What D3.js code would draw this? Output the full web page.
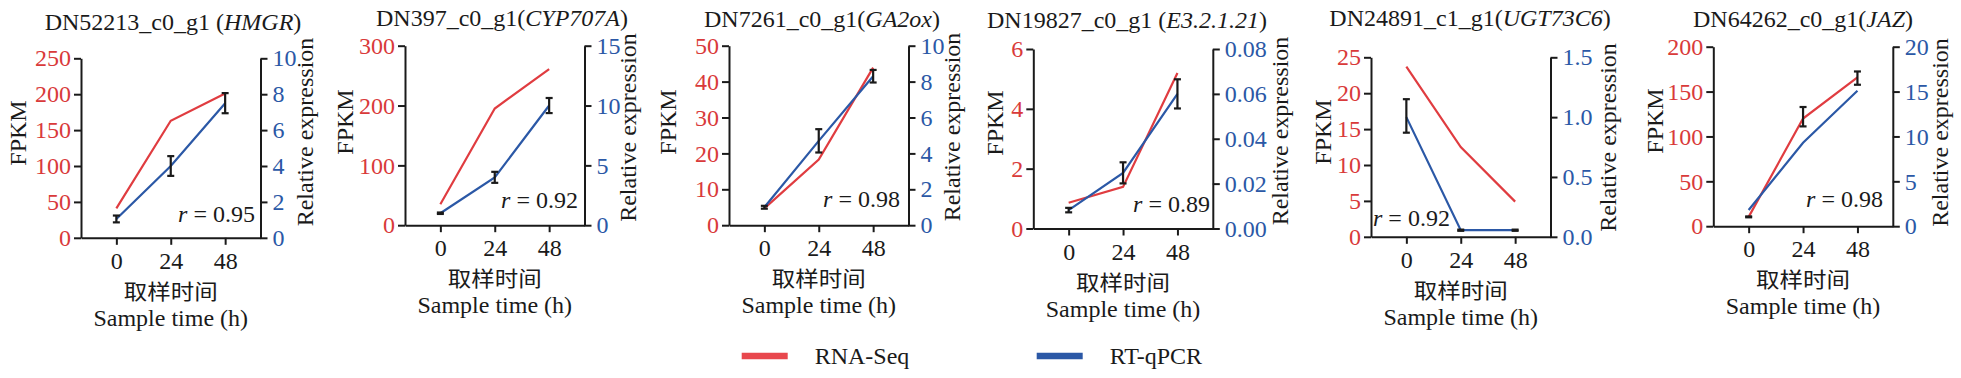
<!DOCTYPE html>
<html>
<head>
<meta charset="utf-8">
<script src="https://cdn.jsdelivr.net/npm/d3@7"></script>
<style>
	body { margin: 0; background: #fff; }
	svg { display: block; }
	svg text { font-family: "Liberation Serif", "Times New Roman", Times, serif; }
	svg text.cjk { font-family: "Noto Sans CJK SC", sans-serif; }
</style>
</head>
<body>
<svg id="chart" width="1961" height="378"></svg>
<script>
// sampling times (h)
var times = ['0', '24', '48'];

// gene titles
var geneIds = ['DN52213_c0_g1 (', 'DN397_c0_g1(', 'DN7261_c0_g1(', 'DN19827_c0_g1 (', 'DN24891_c1_g1(', 'DN64262_c0_g1('];
var geneNames = ['HMGR', 'CYP707A', 'GA2ox', 'E3.2.1.21', 'UGT73C6', 'JAZ'];

// axis ranges
var fpkmMax = [250, 300, 50, 6, 25, 200];
var fpkmStep = [50, 100, 10, 2, 5, 50];
var relMax = [10, 15, 10, 0.08, 1.5, 20];
var relStep = [2, 5, 2, 0.02, 0.5, 5];
var relDigits = [0, 0, 0, 2, 1, 0];

// RNA-Seq FPKM
var rnaSeq = [
	[41, 163, 201],
	[35, 195, 261],
	[4.7, 18.3, 43.9],
	[0.86, 1.39, 5.2],
	[23.7, 12.5, 4.9],
	[10.4, 120, 165.8]
];

// RT-qPCR relative expression (line)
var qpcr = [
	[1.05, 4.0, 7.5],
	[1.0, 4.0, 10.0],
	[1.0, 4.7, 8.3],
	[0.0082, 0.0248, 0.060],
	[1.0, 0.055, 0.055],
	[1.8, 9.3, 15.1]
];

// error bars (relative expression units)
var qpcrBar = [
	[1.05, 4.0, 7.5],
	[1.0, 4.0, 10.0],
	[1.0, 4.7, 8.3],
	[0.0082, 0.0248, 0.060],
	[1.01, 0.055, 0.055],
	[1.04, 12.2, 16.5]
];
var qpcrErr = [
	[0.19, 0.55, 0.56],
	[0.06, 0.46, 0.63],
	[0.08, 0.65, 0.35],
	[0.001, 0.0047, 0.0065],
	[0.14, 0.005, 0.005],
	[0.05, 1.08, 0.74]
];

var rValues = ['0.95', '0.92', '0.98', '0.89', '0.92', '0.98'];
var seriesNames = ['RNA-Seq', 'RT-qPCR'];

// panel placement (left axis x, top y) and label spots
var layout = [
	{x: 81, y: 58.3, tx: 173, ty: 30, fx: 18, fy: 133, ex: 305, ey: 132, rx: 255, ry: 222, ra: 'end'},
	{x: 405, y: 45.7, tx: 502, ty: 26, fx: 345, fy: 122, ex: 628, ey: 127.5, rx: 578, ry: 208, ra: 'end'},
	{x: 729, y: 45.7, tx: 822, ty: 26.7, fx: 668, fy: 122, ex: 952, ey: 127, rx: 900, ry: 207, ra: 'end'},
	{x: 1033.3, y: 49, tx: 1127, ty: 28.3, fx: 995, fy: 123, ex: 1280, ey: 131, rx: 1210, ry: 211.7, ra: 'end'},
	{x: 1371, y: 57.3, tx: 1470, ty: 26, fx: 1323, fy: 132, ex: 1608, ey: 137.5, rx: 1373, ry: 226, ra: 'start'},
	{x: 1713.3, y: 46.7, tx: 1803, ty: 26.7, fx: 1655, fy: 121, ex: 1940, ey: 132.5, rx: 1883, ry: 206.7, ra: 'end'}
];

var w = 179.5, h = 179.5;
var red = '#e03c40', blue = '#2b58a6', redText = '#d93a3a', ink = '#1a1a1a';
var fs = 24;

var svg = d3.select('#chart');

// place a multi-part text so that it starts, centres or ends on x
function placeText(sel, x, anchor){
	var len = sel.node().getComputedTextLength();
	var x0 = anchor == 'end' ? x - len : (anchor == 'middle' ? x - len / 2 : x);
	sel.attr('x', x0).attr('text-anchor', 'start');
}

layout.forEach(function(L, i){
	var g = svg.append('g').attr('transform', 'translate(' + L.x + ',' + L.y + ')');

	var x = d3.scalePoint().domain(times).range([0, w]).padding(0.65);
	var yL = d3.scaleLinear().domain([0, fpkmMax[i]]).range([h, 0]);
	var yR = d3.scaleLinear().domain([0, relMax[i]]).range([h, 0]);

	var lt = d3.range(0, fpkmMax[i] + fpkmStep[i] / 2, fpkmStep[i]);
	var rt = d3.range(0, relMax[i] + relStep[i] / 2, relStep[i]);

	var axL = g.append('g')
		.call(d3.axisLeft(yL).tickValues(lt).tickSize(7).tickPadding(3).tickSizeOuter(0).tickFormat(d3.format('d')));
	var axR = g.append('g')
		.attr('transform', 'translate(' + w + ',0)')
		.call(d3.axisRight(yR).tickValues(rt).tickSize(7).tickPadding(5).tickSizeOuter(0).tickFormat(d3.format('.' + relDigits[i] + 'f')));
	var axB = g.append('g')
		.attr('transform', 'translate(0,' + h + ')')
		.call(d3.axisBottom(x).tickSize(7).tickPadding(7).tickSizeOuter(0));

	[axL, axR, axB].forEach(function(a){
		a.attr('font-family', null).attr('font-size', fs);
		a.selectAll('path, line').attr('stroke', ink).attr('stroke-width', 2);
	});
	axL.selectAll('text').attr('fill', redText);
	axR.selectAll('text').attr('fill', blue);
	axB.selectAll('text').attr('fill', ink);

	// lines
	var lineL = d3.line().x(function(d, j){ return x(times[j]); }).y(function(d){ return yL(d); });
	var lineR = d3.line().x(function(d, j){ return x(times[j]); }).y(function(d){ return yR(d); });

	g.append('path')
		.datum(rnaSeq[i])
		.attr('d', lineL)
		.attr('fill', 'none')
		.attr('stroke', red)
		.attr('stroke-width', 2.2);
	g.append('path')
		.datum(qpcr[i])
		.attr('d', lineR)
		.attr('fill', 'none')
		.attr('stroke', blue)
		.attr('stroke-width', 2.2);

	// error bars
	var eb = g.selectAll('.eb')
		.data(qpcrBar[i])
		.enter()
		.append('g')
		.attr('class', 'eb')
		.attr('stroke', ink)
		.attr('stroke-width', 2.2);
	eb.append('line')
		.attr('x1', function(d, j){ return x(times[j]); })
		.attr('x2', function(d, j){ return x(times[j]); })
		.attr('y1', function(d, j){ return yR(d - qpcrErr[i][j]); })
		.attr('y2', function(d, j){ return yR(d + qpcrErr[i][j]); });
	[-1, 1].forEach(function(s){
		eb.append('line')
			.attr('x1', function(d, j){ return x(times[j]) - 3.5; })
			.attr('x2', function(d, j){ return x(times[j]) + 3.5; })
			.attr('y1', function(d, j){ return yR(d + s * qpcrErr[i][j]); })
			.attr('y2', function(d, j){ return yR(d + s * qpcrErr[i][j]); });
	});

	// x labels (the CJK line is a touch wider than its font, as in the figure)
	g.append('text')
		.attr('class', 'cjk')
		.attr('transform', 'translate(' + x('24') + ',' + (h + 61) + ') scale(1.12,1)')
		.attr('text-anchor', 'middle')
		.attr('font-size', 21)
		.attr('fill', ink)
		.text('取样时间');
	g.append('text')
		.attr('x', x('24'))
		.attr('y', h + 88)
		.attr('text-anchor', 'middle')
		.attr('font-size', fs)
		.attr('fill', ink)
		.text('Sample time (h)');

	// title
	var t = svg.append('text')
		.attr('y', L.ty)
		.attr('font-size', fs)
		.attr('fill', ink);
	t.append('tspan').text(geneIds[i]);
	t.append('tspan').attr('font-style', 'italic').text(geneNames[i]);
	t.append('tspan').text(')');
	placeText(t, L.tx, 'middle');

	// y labels
	svg.append('text')
		.attr('transform', 'translate(' + L.fx + ',' + L.fy + ') rotate(-90)')
		.attr('text-anchor', 'middle')
		.attr('dy', '0.35em')
		.attr('font-size', fs)
		.attr('fill', ink)
		.text('FPKM');
	svg.append('text')
		.attr('transform', 'translate(' + L.ex + ',' + L.ey + ') rotate(-90)')
		.attr('text-anchor', 'middle')
		.attr('dy', '0.35em')
		.attr('font-size', fs)
		.attr('fill', ink)
		.text('Relative expression');

	// correlation
	var r = svg.append('text')
		.attr('y', L.ry)
		.attr('font-size', fs)
		.attr('fill', ink);
	r.append('tspan').attr('font-style', 'italic').text('r');
	r.append('tspan').text(' = ' + rValues[i]);
	placeText(r, L.rx, L.ra);
});

// legend
var legendX = [741.7, 1036.7];
var legendColor = ['#e8474d', blue];
seriesNames.forEach(function(name, k){
	svg.append('line')
		.attr('x1', legendX[k])
		.attr('x2', legendX[k] + 46)
		.attr('y1', 356)
		.attr('y2', 356)
		.attr('stroke', legendColor[k])
		.attr('stroke-width', 6.5);
	svg.append('text')
		.attr('x', legendX[k] + 73)
		.attr('y', 363.5)
		.attr('font-size', fs)
		.attr('fill', ink)
		.text(name);
});
</script>
</body>
</html>
